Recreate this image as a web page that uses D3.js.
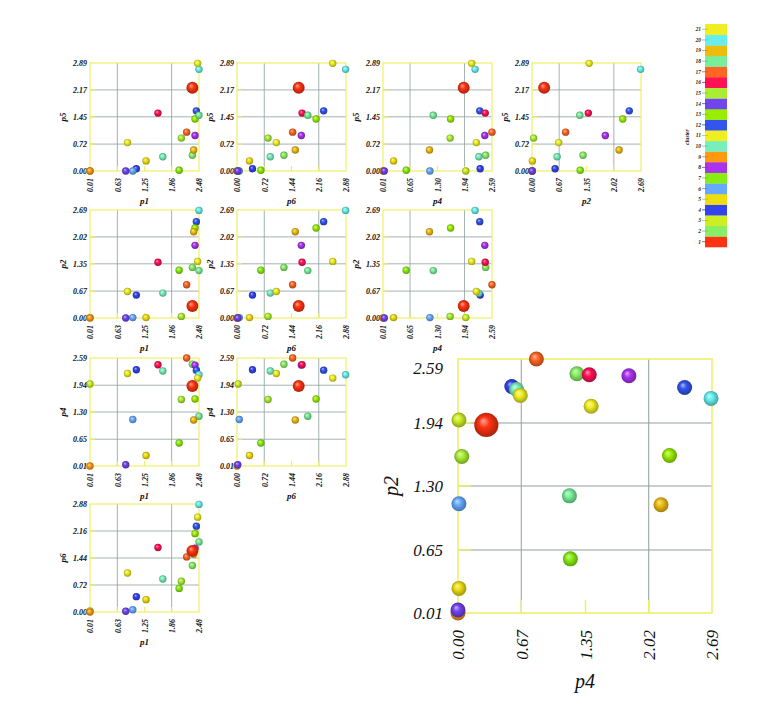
<!DOCTYPE html>
<html>
<head>
<meta charset="utf-8">
<script src="https://cdn.jsdelivr.net/npm/d3@7"></script>
<style>
body { margin: 0; background: #fff; }
svg { display: block; }
text { font-family: "Liberation Serif", serif; font-style: italic; }
</style>
</head>
<body>
<svg id="chart" width="763" height="728"></svg>
<script>
// one value per cluster, cluster 1 .. 21
var clusters = d3.range(1, 22);
var clusterColors = ['#ff3311', '#88ee66', '#ccee22', '#3344ee', '#eedd11', '#66aaff', '#88ee11',
    '#aa33ee', '#ff9911', '#77eebb', '#eeee22', '#3355ee', '#99ee00', '#7044ee', '#aaee33',
    '#ff1155', '#ff6622', '#77ee99', '#eebb11', '#66eeee', '#eeee22'];
var clusterSize = [2.6, 1, 1, 1, 1, 1, 1, 1, 1, 1, 1, 1, 1, 1, 1, 1, 1, 1, 1, 1, 1];

var p1 = [2.33, 2.33, 0.01, 1.06, 1.28, 0.98, 2.03, 2.39, 0.01, 1.66, 0.86, 2.42, 2.39, 0.82, 2.08, 1.55, 2.20, 2.48, 2.36, 2.48, 2.45];
var p6 = [1.63, 1.24, 0.03, 0.41, 0.33, 0.06, 0.63, 1.70, 0.00, 0.88, 1.04, 2.29, 2.09, 0.02, 0.82, 1.72, 1.47, 1.87, 1.54, 2.87, 2.53];
var p4 = [1.92, 2.44, 1.97, 2.31, 0.26, 1.12, 0.56, 2.42, 0.01, 2.28, 2.22, 2.30, 1.61, 0.04, 1.60, 2.43, 2.59, 1.20, 1.11, 2.19, 2.11];
var p2 = [0.30, 1.26, 0.01, 0.57, 0.01, 0.01, 1.19, 1.81, 0.00, 0.62, 0.66, 2.40, 2.24, 0.00, 0.04, 1.39, 0.83, 1.18, 2.15, 2.68, 1.41];
var p5 = [2.23, 0.42, 0.00, 0.06, 0.27, 0.00, 0.02, 0.95, 0.00, 0.38, 0.76, 1.61, 1.39, 0.00, 0.88, 1.55, 1.04, 1.49, 0.56, 2.72, 2.88];

var p1Ticks = [0.01, 0.63, 1.25, 1.86, 2.48];
var p6Ticks = [0.00, 0.72, 1.44, 2.16, 2.88];
var p4Ticks = [0.01, 0.65, 1.30, 1.94, 2.59];
var p2Ticks = [0.00, 0.67, 1.35, 2.02, 2.69];
var p5Ticks = [0.00, 0.72, 1.45, 2.17, 2.89];

var vars = {
    p1: { name: 'p1', values: p1, ticks: p1Ticks },
    p6: { name: 'p6', values: p6, ticks: p6Ticks },
    p4: { name: 'p4', values: p4, ticks: p4Ticks },
    p2: { name: 'p2', values: p2, ticks: p2Ticks },
    p5: { name: 'p5', values: p5, ticks: p5Ticks }
};

var svg = d3.select('#chart');
var defs = svg.append('defs');
var fmt = d3.format('.2f');
var frameColor = '#eeee66', gridColor = '#8e9e9e';

// shaded balls
clusters.forEach(function(c, i) {
    var col = clusterColors[i];
    var g = defs.append('radialGradient').attr('id', 'ball' + c)
        .attr('cx', '50%').attr('cy', '50%').attr('r', '55%')
        .attr('fx', '36%').attr('fy', '32%');
    g.append('stop').attr('offset', '0%').attr('stop-color', d3.interpolateRgb(col, '#ffffff')(0.6));
    g.append('stop').attr('offset', '40%').attr('stop-color', col);
    g.append('stop').attr('offset', '100%').attr('stop-color', d3.rgb(col).darker(1.3));
});

function panel(x0, y0, w, h, xv, yv, o) {
    var x = d3.scaleLinear().domain([xv.ticks[0], xv.ticks[4]]).range([x0, x0 + w]);
    var y = d3.scaleLinear().domain([yv.ticks[0], yv.ticks[4]]).range([y0 + h, y0]);
    var g = svg.append('g');

    g.selectAll('line.hg').data(yv.ticks.slice(1, 4)).enter().append('line')
        .attr('x1', x0).attr('x2', x0 + w)
        .attr('y1', function(d) { return y(d); }).attr('y2', function(d) { return y(d); })
        .attr('stroke', gridColor).attr('stroke-width', o.grid);
    g.selectAll('line.vg').data([xv.ticks[1], xv.ticks[3]]).enter().append('line')
        .attr('y1', y0).attr('y2', y0 + h)
        .attr('x1', function(d) { return x(d); }).attr('x2', function(d) { return x(d); })
        .attr('stroke', gridColor).attr('stroke-width', o.grid);

    // short yellow ticks along left and bottom edges
    g.selectAll('line.yt').data(yv.ticks.slice(1, 4)).enter().append('line')
        .attr('x1', x0).attr('x2', x0 + o.tick)
        .attr('y1', function(d) { return y(d); }).attr('y2', function(d) { return y(d); })
        .attr('stroke', frameColor).attr('stroke-width', o.frame);
    g.selectAll('line.xt').data(xv.ticks.slice(1, 4)).enter().append('line')
        .attr('y1', y0 + h).attr('y2', y0 + h - o.tick)
        .attr('x1', function(d) { return x(d); }).attr('x2', function(d) { return x(d); })
        .attr('stroke', frameColor).attr('stroke-width', o.frame);

    g.append('rect').attr('x', x0).attr('y', y0).attr('width', w).attr('height', h)
        .attr('fill', 'none').attr('stroke', frameColor).attr('stroke-width', o.frame);

    var ya = g.append('g').attr('transform', 'translate(' + x0 + ',0)')
        .call(d3.axisLeft(y).tickValues(yv.ticks).tickFormat(fmt).tickSize(0).tickPadding(o.pad));
    var xa = g.append('g').attr('transform', 'translate(0,' + (y0 + h) + ')')
        .call(d3.axisBottom(x).tickValues(xv.ticks).tickFormat(fmt).tickSize(0));
    [ya, xa].forEach(function(a) {
        a.select('.domain').remove();
        a.selectAll('text').attr('font-family', '"Liberation Serif", serif')
            .attr('font-style', 'italic').attr('font-weight', o.weight)
            .attr('font-size', o.tickFont).attr('fill', '#111');
    });
    // top label sits a little under its line, as in the picture
    ya.selectAll('text').filter(function(d, i) { return i === 4; }).attr('dy', o.topShift);
    xa.selectAll('text').attr('transform', 'rotate(-90)')
        .attr('x', -o.xpad).attr('y', 0).attr('dy', '0.35em').attr('text-anchor', 'end');

    g.append('text').attr('x', x0 + w / 2).attr('y', y0 + h + o.xlab)
        .attr('text-anchor', 'middle').attr('font-size', o.labFont).attr('font-weight', o.weight)
        .attr('fill', '#111').text(o.xName || xv.name);
    g.append('text')
        .attr('transform', 'translate(' + (x0 - o.ylab) + ',' + (y0 + h / 2) + ') rotate(-90)')
        .attr('text-anchor', 'middle').attr('font-size', o.labFont).attr('font-weight', o.weight)
        .attr('fill', '#111').text(o.yName || yv.name);

    // cluster 1 is drawn last, on top
    var order = clusters.slice(1).concat([1]);
    g.selectAll('circle.ball').data(order).enter().append('circle')
        .attr('cx', function(c) { return x(xv.values[c - 1]); })
        .attr('cy', function(c) { return y(yv.values[c - 1]); })
        .attr('r', function(c) { return o.r * Math.sqrt(clusterSize[c - 1]); })
        .attr('fill', function(c) { return 'url(#ball' + c + ')'; });
}

var colX = [90, 237, 383, 532];
var rowY = [63, 210, 358, 504];
var rowVars = ['p5', 'p2', 'p4', 'p6'];
var colVars = ['p1', 'p6', 'p4', 'p2'];
var small = { grid: 0.8, frame: 1.2, tick: 5, pad: 3, xpad: 7, xlab: 33, ylab: 24,
    tickFont: 8, labFont: 9, weight: 'bold', r: 3.7, topShift: '0.32em' };

rowVars.forEach(function(rv, r) {
    colVars.forEach(function(cv, c) {
        if (c > 3 - r) return;
        panel(colX[c], rowY[r], 109, 108, vars[cv], vars[rv], small);
    });
});

// large panel: axis titles as printed in the picture
panel(458, 359, 254, 254, vars.p2, vars.p4,
    { grid: 1, frame: 1.5, tick: 13, pad: 15, xpad: 17, xlab: 75, ylab: 60,
      tickFont: 17, labFont: 20, weight: 'normal', r: 7.5, xName: 'p4', yName: 'p2',
      topShift: '0.85em' });

// colour key
var ly = d3.scaleBand().domain(clusters.slice().reverse()).range([24, 247]);
var key = svg.append('g');
key.selectAll('rect').data(clusters).enter().append('rect')
    .attr('x', 705).attr('width', 22)
    .attr('y', function(c) { return ly(c); }).attr('height', ly.bandwidth() + 0.3)
    .attr('fill', function(c) { return clusterColors[c - 1]; });
key.selectAll('line').data(clusters).enter().append('line')
    .attr('x1', 702).attr('x2', 708)
    .attr('y1', function(c) { return ly(c) + ly.bandwidth() / 2; })
    .attr('y2', function(c) { return ly(c) + ly.bandwidth() / 2; })
    .attr('stroke', function(c) { return d3.rgb(clusterColors[c - 1]).darker(0.5); }).attr('stroke-width', 0.8);
key.selectAll('text').data(clusters).enter().append('text')
    .attr('x', 701).attr('y', function(c) { return ly(c) + ly.bandwidth() / 2; })
    .attr('dy', '0.35em').attr('text-anchor', 'end')
    .attr('font-family', '"DejaVu Sans", sans-serif').attr('font-style', 'normal')
    .attr('font-weight', 'bold').attr('font-size', 5.5).attr('fill', '#222')
    .text(function(c) { return c; });
key.append('text').attr('transform', 'translate(689,137) rotate(-90)')
    .attr('text-anchor', 'middle').attr('font-family', '"DejaVu Sans", sans-serif')
    .attr('font-style', 'normal').attr('font-weight', 'bold').attr('font-size', 5.5)
    .attr('fill', '#222').text('cluster');
</script>
</body>
</html>
